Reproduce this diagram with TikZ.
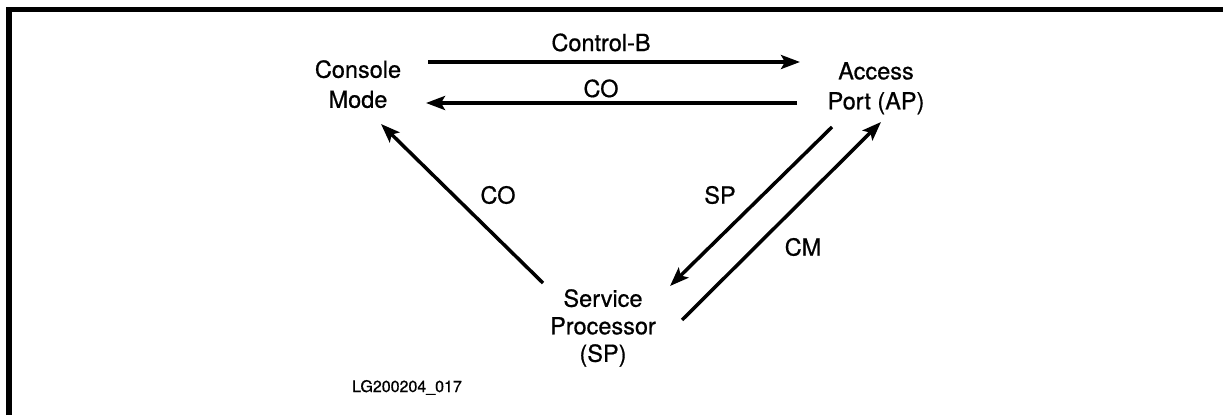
\documentclass[tikz,border=0pt]{standalone}
\usepackage{fontspec}
\setmainfont[FakeBold=0.7]{TeX Gyre Heros}
\usetikzlibrary{arrows.meta}
\begin{document}
\begin{tikzpicture}[x=1pt,y=-1pt,
  statebox/.style={inner sep=0pt, align=center, font=\fontsize{23.5}{30}\selectfont},
  lbl/.style={inner sep=0pt, font=\fontsize{23.5}{30}\selectfont},
  conn/.style={line width=3.5pt, -{Stealth[length=19pt,width=14pt,inset=4pt]}},
  frameline/.style={line width=5.5pt}]
\useasboundingbox (0,0) rectangle (1223,415);
% frame
\coordinate (fb) at (9,415);
\coordinate (ftl) at (9,9.5);
\coordinate (fr) at (1223,9.5);
\draw[frameline] (fb) -- (ftl) -- (fr);
% states
\node[statebox, anchor=north] (cm) at (358,60) {Console\\Mode};
\node[statebox, anchor=north] (ap) at (876,62) {Access\\Port (AP)};
\node[statebox, anchor=north, font=\fontsize{23.5}{27.5}\selectfont] (sp) at (603,289) {Service\\Processor\\(SP)};
% connector end points
\coordinate (cb1) at (428,62);
\coordinate (cb2) at (800,62);
\coordinate (co1) at (797,103);
\coordinate (co2) at (426,103);
\coordinate (sc1) at (543,283);
\coordinate (sc2) at (381,124);
\coordinate (as1) at (832,127);
\coordinate (as2) at (670,286);
\coordinate (sa1) at (682,320);
\coordinate (sa2) at (881,122);
\draw[conn] (cb1) -- (cb2);
\draw[conn] (co1) -- (co2);
\draw[conn] (sc1) -- (sc2);
\draw[conn] (as1) -- (as2);
\draw[conn] (sa1) -- (sa2);
% labels
\node[lbl, anchor=base] (lcb) at (601,51) {Control-B};
\node[lbl, anchor=base] (lco) at (601,97) {CO};
\node[lbl] (lco2) at (498,195) {CO};
\node[lbl] (lsp) at (720,195) {SP};
\node[lbl] (lcm) at (803,247) {CM};
\node[inner sep=0pt, anchor=base, font=\fontsize{16}{19}\selectfont] (fig) at (407,392) {LG200204\_017};
\end{tikzpicture}
\end{document}
